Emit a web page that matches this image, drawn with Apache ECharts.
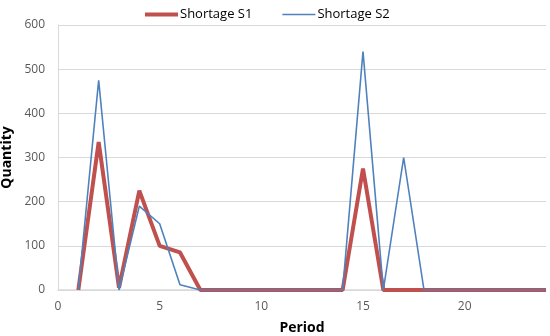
<!DOCTYPE html>
<html><head><meta charset="utf-8">
<script src="https://cdn.jsdelivr.net/npm/echarts@6/dist/echarts.min.js"></script>
<style>html,body{margin:0;padding:0;background:#fff}#c{width:550px;height:336px}</style>
</head><body><div id="c"></div>
<script>
var periods = [1,2,3,4,5,6,7,8,9,10,11,12,13,14,15,16,17,18,19,20,21,22,23,24];
var shortageS1 = [0,335,5,225,100,85,0,0,0,0,0,0,0,0,275,0,0,0,0,0,0,0,0,0];
var shortageS2 = [0,475,0,190,150,12,0,0,0,0,0,0,0,0,540,0,300,0,0,0,0,0,0,0];
var seriesNames = ['Shortage S1','Shortage S2'];

function pairs(vals){ return periods.map(function(p,i){ return [p, vals[i]]; }); }

var chart = echarts.init(document.getElementById('c'), null, {renderer:'canvas'});
chart.setOption({
  animation:false,
  textStyle:{fontFamily:'Open Sans, Liberation Sans, sans-serif'},
  legend:{
    top:3, left:140, itemWidth:33, itemHeight:12, itemGap:30,
    textStyle:{fontSize:13, color:'#000', fontFamily:'Open Sans, sans-serif', padding:[0,0,0,-3]},
    data:[
      {name:seriesNames[0], icon:'path://M0,0L0,12L0,0Z M0,4L33,4L33,8L0,8Z', itemStyle:{color:'#C0504D', borderWidth:0}},
      {name:seriesNames[1], icon:'path://M0,0L0,12L0,0Z M0,5.2L33,5.2L33,6.8L0,6.8Z', itemStyle:{color:'#4F81BD', borderWidth:0}}
    ]
  },
  grid:{left:58, right:4, top:25, bottom:46, outerBoundsMode:'none', containLabel:false},
  xAxis:{
    type:'value', min:0, max:24, interval:5,
    name:'Period', nameLocation:'middle', nameGap:31,
    nameTextStyle:{fontSize:14, fontWeight:'bold', color:'#000'},
    axisLine:{show:true, lineStyle:{color:'#d9d9d9', width:1.5}},
    axisTick:{show:false},
    splitLine:{show:false},
    axisLabel:{color:'#595959', fontSize:12, margin:11, showMaxLabel:false}
  },
  yAxis:{
    type:'value', min:0, max:600, interval:100,
    name:'Quantity', nameLocation:'middle', nameGap:34,
    nameTextStyle:{fontSize:14, fontWeight:'bold', color:'#000'},
    axisLine:{show:true, lineStyle:{color:'#d9d9d9', width:1}},
    axisTick:{show:false},
    splitLine:{lineStyle:{color:'#d9d9d9', width:1}},
    axisLabel:{color:'#595959', fontSize:12, margin:13}
  },
  series:[
    {name:seriesNames[0], type:'line', data:pairs(shortageS1), symbol:'none',
     lineStyle:{color:'#C0504D', width:4}, itemStyle:{color:'#C0504D'}, z:2},
    {name:seriesNames[1], type:'line', data:pairs(shortageS2), symbol:'none',
     lineStyle:{color:'#4F81BD', width:1.6}, itemStyle:{color:'#4F81BD'}, z:3}
  ]
});
</script></body></html>
